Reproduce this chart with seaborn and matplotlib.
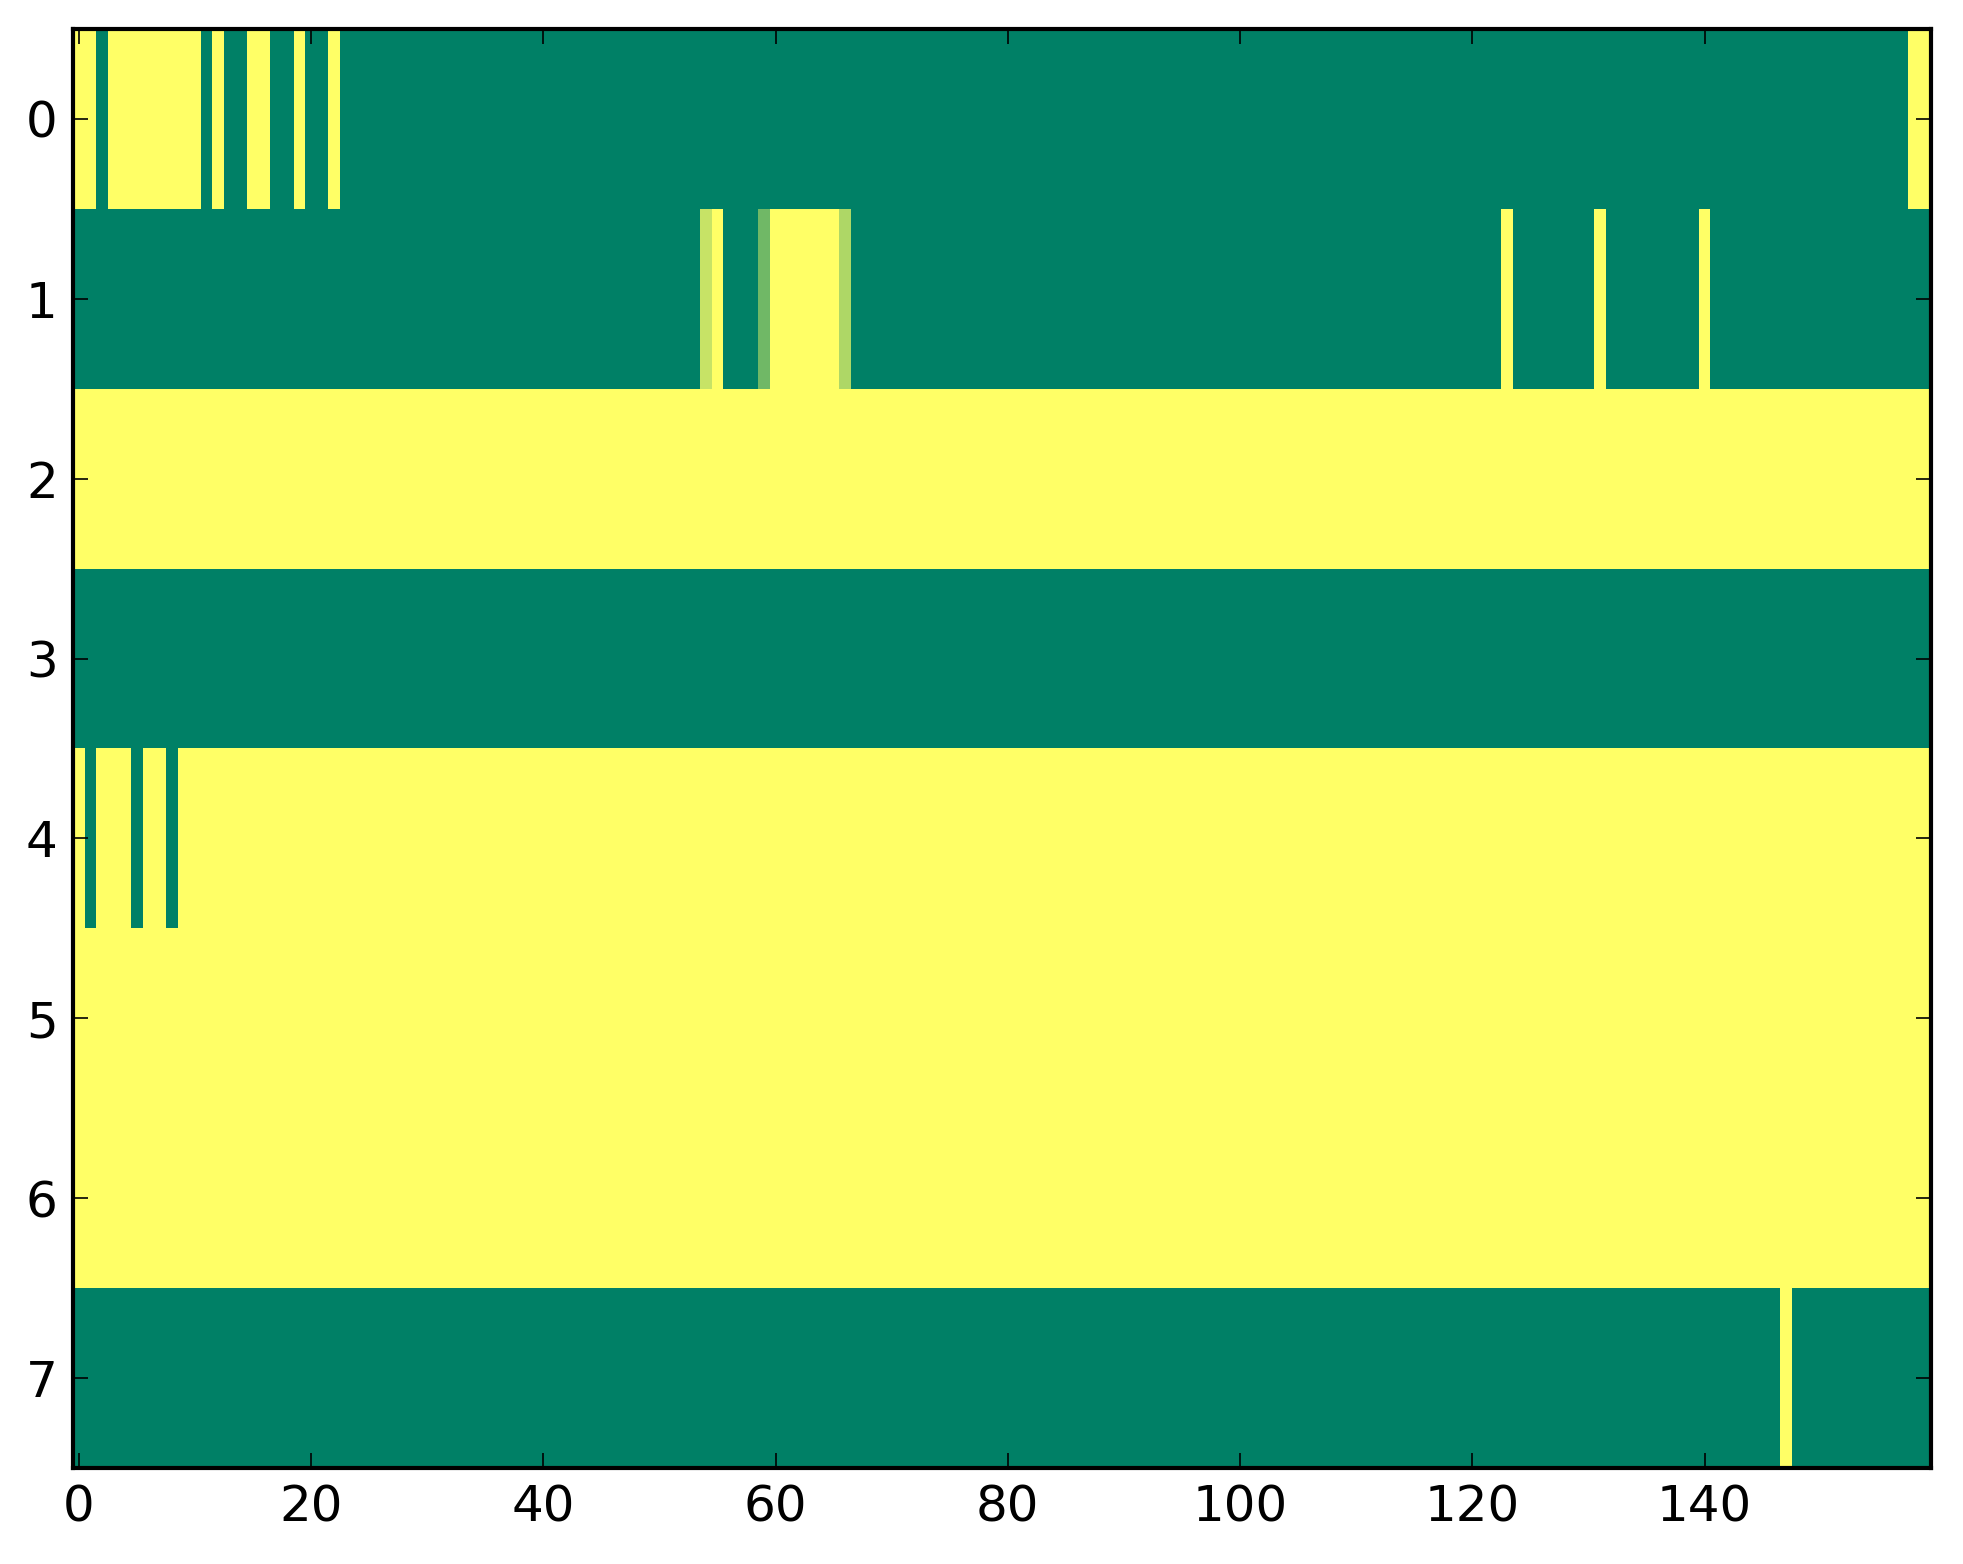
import numpy as np
import pandas as pd
import matplotlib
matplotlib.use("Agg")
import matplotlib.pyplot as plt
import seaborn as sns

n_cols = 160
n_rows = 8

# Row values: cells listed as (column, value); everything else is the row's base value
row_base = [0.0, 0.0, 1.0, 0.0, 1.0, 1.0, 1.0, 0.0]
row0_cells = [(0, 1.0), (1, 1.0), (3, 1.0), (4, 1.0), (5, 1.0), (6, 1.0), (7, 1.0), (8, 1.0),
              (9, 1.0), (10, 1.0), (12, 1.0), (15, 1.0), (16, 1.0), (19, 1.0), (22, 1.0),
              (158, 1.0), (159, 1.0)]
row1_cells = [(54, 0.78), (55, 1.0), (59, 0.44), (60, 1.0), (61, 1.0), (62, 1.0), (63, 1.0),
              (64, 1.0), (65, 1.0), (66, 0.68), (123, 1.0), (131, 1.0), (140, 1.0)]
row4_cells = [(1, 0.0), (5, 0.0), (8, 0.0)]
row7_cells = [(147, 1.0)]
row_cells = {0: row0_cells, 1: row1_cells, 4: row4_cells, 7: row7_cells}

data = np.array([[row_base[r]] * n_cols for r in range(n_rows)], dtype=float)
for r, cells in row_cells.items():
    for c, v in cells:
        data[r, c] = v
df = pd.DataFrame(data)

x_ticks = [0, 20, 40, 60, 80, 100, 120, 140]
y_ticks = list(range(8))

sns.set_style("white")
plt.rcParams['font.family'] = ['DejaVu Sans']
plt.rcParams['axes.axisbelow'] = False

fig = plt.figure(figsize=(1963 / 200, 1564 / 200), dpi=200)
ax = fig.add_axes([0.0372, 0.0614, 0.9465, 0.9201])
sns.heatmap(df, ax=ax, cmap="summer", vmin=0, vmax=1, cbar=False,
            xticklabels=False, yticklabels=False)
ax.set_axisbelow(False)

ax.set_xticks([t + 0.5 for t in x_ticks])
ax.set_xticklabels([str(t) for t in x_ticks])
ax.set_yticks([t + 0.5 for t in y_ticks])
ax.set_yticklabels([str(t) for t in y_ticks], rotation=0)
ax.set_xlim(0, n_cols)
ax.set_ylim(n_rows, 0)

for s in ax.spines.values():
    s.set_visible(True)
    s.set_color("black")
    s.set_linewidth(1.5)
    s.set_zorder(3)

ax.tick_params(axis="both", which="major", direction="in", length=5.5, width=0.6,
               top=True, right=True, bottom=True, left=True,
               labeltop=False, labelright=False,
               labelsize=18, pad=5.5, colors="black")

fig.savefig("out.png", dpi=200)
